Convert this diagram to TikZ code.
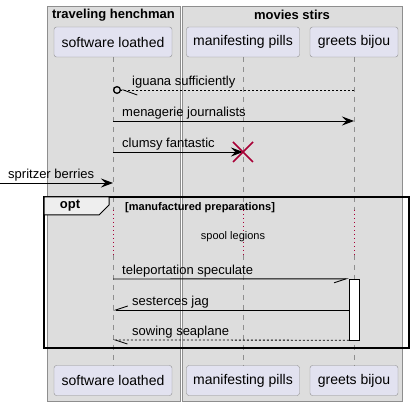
\documentclass[tikz,border=0pt]{standalone}
\usepackage{fontspec}
\setmainfont{Liberation Sans}
\usetikzlibrary{arrows.meta,calc}
\definecolor{boxgray}{HTML}{DDDDDD}
\definecolor{linegray}{HTML}{8E8E8E}
\definecolor{partfill}{HTML}{E2E2F0}
\definecolor{tabfill}{HTML}{EEEEEE}
\definecolor{plumred}{HTML}{A80036}
\begin{document}
\begin{tikzpicture}[x=1pt, y=-1pt,
	part/.style={draw=linegray, fill=partfill, rounded corners=2.5pt, minimum height=30pt, inner sep=0pt, font=\fontsize{14}{16}\selectfont},
	lifeline/.style={draw=linegray, dash pattern=on 5pt off 5pt},
	delayline/.style={draw=plumred, dash pattern=on 1pt off 3pt},
	msg/.style={line width=0.9pt, -{Stealth[length=12pt, width=9pt, inset=4.5pt]}},
	msglabel/.style={anchor=base west, inner sep=0pt, font=\fontsize{13}{15}\selectfont}]
			%%%%% START %%%%%
			\useasboundingbox (0, 0) rectangle (413, 406);
			
			\draw[draw=linegray, fill=boxgray] (47, 6) rectangle (180, 401);
			\draw[draw=linegray, fill=boxgray] (182, 6) rectangle (402, 401);
			\node[font=\bfseries\fontsize{13}{15}\selectfont] (hench) at (113.5, 15) {traveling henchman};
			\node[font=\bfseries\fontsize{13}{15}\selectfont] (movies) at (292, 15) {movies stirs};
			
			\node[part, minimum width=118pt] (pA) at (113, 42) {software loathed};
			\node[part, minimum width=113pt] (pB) at (243, 42) {manifesting pills};
			\node[part, minimum width=88pt] (pC) at (354, 42) {greets bijou};
			\node[part, minimum width=118pt] (bA) at (113, 380.5) {software loathed};
			\node[part, minimum width=113pt] (bB) at (243, 380.5) {manifesting pills};
			\node[part, minimum width=88pt] (bC) at (354, 380.5) {greets bijou};
			
			\foreach \p in {A, B, C} {
				\coordinate (d1\p) at (p\p |- 0, 210);
				\coordinate (d2\p) at (p\p |- 0, 255);
				\draw[lifeline] (p\p) ++(0, 15) -- (d1\p);
				\draw[delayline] (d1\p) -- (d2\p);
				\draw[lifeline] (d2\p) -- (b\p.north);
			}
			
			% iguana sufficiently
			\draw[line width=0.8pt, dash pattern=on 2pt off 2pt, -{Straight Barb[harpoon, length=14pt, width=10pt] Circle[open, length=8pt, line width=1.3pt]}] (pC |- 0, 90) -- (pA |- 0, 90);
			\node[msglabel] (m1) at (132, 86) {iguana sufficiently};
			
			% menagerie journalists
			\draw[msg] (pA |- 0, 121) -- (pC |- 0, 121);
			\node[msglabel] (m2) at (122, 117) {menagerie journalists};
			
			% clumsy fantastic
			\coordinate (xB) at (pB |- 0, 152);
			\draw[msg] (pA |- 0, 152) -- (xB);
			\node[msglabel] (m3) at (122, 148) {clumsy fantastic};
			\draw[plumred, line width=1.6pt] ($(xB)+(-10, -10)$) -- ($(xB)+(10, 10)$);
			\draw[plumred, line width=1.6pt] ($(xB)+(-10, 10)$) -- ($(xB)+(10, -10)$);
			
			% spritzer berries
			\coordinate (src) at (0, 183);
			\draw[msg] (src) -- (pA |- src);
			\node[msglabel] (m4) at (8, 179) {spritzer berries};
			
			% opt frame
			\draw[line width=1.5pt] (44, 197) rectangle (409, 348);
			\draw[fill=tabfill, line width=1pt] (44, 197) -- (109, 197) -- (109, 205) -- (99, 215) -- (44, 215) -- cycle;
			\node[font=\bfseries\fontsize{13}{15}\selectfont] (opt) at (70, 206) {opt};
			\node[anchor=west, inner sep=0pt, font=\bfseries\fontsize{11}{13}\selectfont] (cond) at (125, 208) {[manufactured preparations]};
			\node[font=\fontsize{11}{13}\selectfont] (delay) at (233, 237) {spool legions};
			
			% activation
			\node[draw, fill=white, minimum width=10pt, minimum height=61pt, inner sep=0pt] (act) at (354, 309.5) {};
			
			\draw[line width=0.9pt, -{Straight Barb[harpoon, swap, length=12pt, width=8pt]}] (pA |- 0, 279) -- (act.north west);
			\node[msglabel] (m5) at (122, 275) {teleportation speculate};
			
			\draw[line width=0.9pt, -{Straight Barb[harpoon, swap, length=12pt, width=8pt]}] (act.west |- 0, 310) -- (pA |- 0, 310);
			\node[msglabel] (m6) at (132, 306) {sesterces jag};
			
			\draw[line width=0.8pt, dash pattern=on 2pt off 2pt, -{Straight Barb[harpoon, length=12pt, width=8pt]}] (act.south west) -- (pA |- 0, 340);
			\node[msglabel] (m7) at (132, 336) {sowing seaplane};
			
			%%%%% END %%%%%
\end{tikzpicture}
\end{document}
